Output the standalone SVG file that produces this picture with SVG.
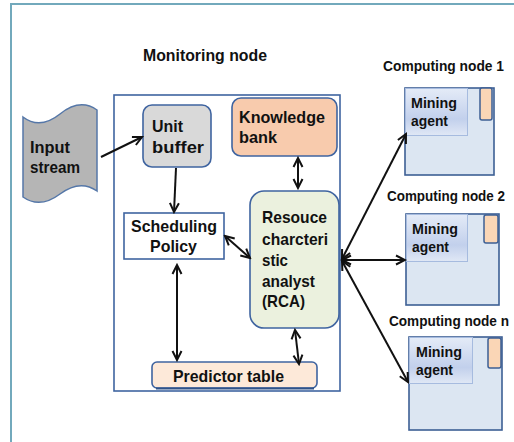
<svg xmlns="http://www.w3.org/2000/svg" width="514" height="442" viewBox="0 0 514 442">
  <style>
    .t { font-family: "Liberation Sans", Arial, sans-serif; font-weight: bold; fill: #111; }
    .n17 { font-size: 17px; }
    .n15 { font-size: 15px; }
    .n14 { font-size: 14px; }
    .box { stroke: #3f64a0; stroke-width: 1.6; }
    .link { stroke: #111; stroke-width: 2; fill: none; }
    .cbox { fill: #dce6f2; stroke: #3d5f94; stroke-width: 1.6; }
    .agent { fill: url(#agentGrad); stroke: #a6bbdf; stroke-width: 1; }
    .tab { fill: #fad6b6; stroke: #3d5f94; stroke-width: 1.5; }
  </style>
  <defs>
    <linearGradient id="agentGrad" x1="0" y1="0" x2="0" y2="1">
      <stop offset="0" stop-color="#e4ebf7"/>
      <stop offset="0.65" stop-color="#c2d0ec"/>
      <stop offset="1" stop-color="#e0e8f5"/>
    </linearGradient>
    <marker id="arrow" viewBox="0 0 12 12" refX="10" refY="6" markerWidth="12" markerHeight="12" markerUnits="userSpaceOnUse" orient="auto-start-reverse">
      <path d="M1,1.5 L10,6 L1,10.5" fill="none" stroke="#111" stroke-width="2"/>
    </marker>
  </defs>

  <rect width="514" height="442" fill="#ffffff"/>
  <!-- outer frame -->
  <rect x="11" y="4" width="530" height="460" fill="none" stroke="#72a9bc" stroke-width="2"/>

  <!-- monitoring node container -->
  <g id="monitoring-node">
    <rect x="114" y="95" width="226" height="296" fill="none" stroke="#3f64a0" stroke-width="1.6"/>
    <text class="t n17" x="143" y="61" textLength="124" lengthAdjust="spacingAndGlyphs">Monitoring node</text>
  </g>

  <g id="input-stream">
    <path d="M23,117 Q40,130 60,114 T97,110 L97,191 Q80,179 60,194 T23,197 Z" fill="#b5b5b5" stroke="#5577a8" stroke-width="1.5"/>
    <text class="t n17" x="30" y="153" textLength="40" lengthAdjust="spacingAndGlyphs">Input</text>
    <text class="t n17" x="30" y="173" textLength="50" lengthAdjust="spacingAndGlyphs">stream</text>
  </g>

  <g id="unit-buffer">
    <rect class="box" x="143" y="105" width="68" height="62" rx="9" fill="#d9d9d9"/>
    <text class="t n17" x="152" y="132" textLength="31" lengthAdjust="spacingAndGlyphs">Unit</text>
    <text class="t n17" x="152" y="153" textLength="52" lengthAdjust="spacingAndGlyphs">buffer</text>
  </g>

  <g id="knowledge-bank">
    <rect class="box" x="232" y="98" width="105" height="58" rx="9" fill="#f8cbad"/>
    <text class="t n17" x="239" y="123" textLength="86" lengthAdjust="spacingAndGlyphs">Knowledge</text>
    <text class="t n17" x="239" y="143" textLength="38" lengthAdjust="spacingAndGlyphs">bank</text>
  </g>

  <g id="scheduling-policy">
    <rect class="box" x="124" y="213" width="100" height="46" fill="#ffffff"/>
    <text class="t n17" x="131" y="232" textLength="86" lengthAdjust="spacingAndGlyphs">Scheduling</text>
    <text class="t n17" x="150" y="252" textLength="47" lengthAdjust="spacingAndGlyphs">Policy</text>
  </g>

  <g id="rca">
    <rect class="box" x="250" y="191" width="89" height="137" rx="14" fill="#ebf1de"/>
    <text class="t n17" x="262" y="223" textLength="65" lengthAdjust="spacingAndGlyphs">Resouce</text>
    <text class="t n17" x="262" y="245" textLength="66" lengthAdjust="spacingAndGlyphs">charcteri</text>
    <text class="t n17" x="262" y="266" textLength="26" lengthAdjust="spacingAndGlyphs">stic</text>
    <text class="t n17" x="262" y="287" textLength="53" lengthAdjust="spacingAndGlyphs">analyst</text>
    <text class="t n17" x="262" y="307" textLength="43" lengthAdjust="spacingAndGlyphs">(RCA)</text>
  </g>

  <g id="predictor-table">
    <rect class="box" x="152" y="362" width="165" height="26" rx="5" fill="#fde9d9"/>
    <line x1="156" y1="388.5" x2="314" y2="388.5" stroke="#2f5389" stroke-width="2"/>
    <text class="t n17" x="173" y="382" textLength="111" lengthAdjust="spacingAndGlyphs">Predictor table</text>
  </g>

  <g id="computing-node-1">
    <text class="t n14" x="383" y="71" textLength="121" lengthAdjust="spacingAndGlyphs">Computing node 1</text>
    <rect class="cbox" x="405" y="88" width="89" height="87"/>
    <rect class="agent" x="405.5" y="88.5" width="62" height="47"/>
    <rect class="tab" x="480" y="88" width="12" height="32" rx="2"/>
    <text class="t n15" x="411" y="108" textLength="46" lengthAdjust="spacingAndGlyphs">Mining</text>
    <text class="t n15" x="411" y="126" textLength="37" lengthAdjust="spacingAndGlyphs">agent</text>
  </g>

  <g id="computing-node-2">
    <text class="t n14" x="387" y="201" textLength="118" lengthAdjust="spacingAndGlyphs">Computing node 2</text>
    <rect class="cbox" x="406" y="214" width="93" height="91"/>
    <rect class="agent" x="406.5" y="214.5" width="61" height="47"/>
    <rect class="tab" x="484" y="215" width="14" height="28" rx="2"/>
    <text class="t n15" x="412" y="234" textLength="46" lengthAdjust="spacingAndGlyphs">Mining</text>
    <text class="t n15" x="412" y="252" textLength="37" lengthAdjust="spacingAndGlyphs">agent</text>
  </g>

  <g id="computing-node-n">
    <text class="t n14" x="389" y="326" textLength="120" lengthAdjust="spacingAndGlyphs">Computing node n</text>
    <rect class="cbox" x="409" y="337" width="93" height="93"/>
    <rect class="agent" x="409.5" y="337.5" width="63" height="46"/>
    <rect class="tab" x="488" y="338" width="13" height="30" rx="2"/>
    <text class="t n15" x="416" y="357" textLength="46" lengthAdjust="spacingAndGlyphs">Mining</text>
    <text class="t n15" x="416" y="375" textLength="37" lengthAdjust="spacingAndGlyphs">agent</text>
  </g>

  <!-- connectors -->
  <g id="connectors">
    <line class="link" x1="101" y1="157" x2="142" y2="137" marker-end="url(#arrow)"/>
    <line class="link" x1="176" y1="168" x2="174" y2="212" marker-end="url(#arrow)"/>
    <line class="link" x1="298" y1="158" x2="298" y2="188" marker-start="url(#arrow)" marker-end="url(#arrow)"/>
    <line class="link" x1="225" y1="236" x2="250" y2="258" marker-start="url(#arrow)" marker-end="url(#arrow)"/>
    <line class="link" x1="177" y1="265" x2="177" y2="360" marker-start="url(#arrow)" marker-end="url(#arrow)"/>
    <line class="link" x1="295" y1="330" x2="299" y2="364" marker-start="url(#arrow)" marker-end="url(#arrow)"/>
    <line class="link" x1="342" y1="259" x2="406" y2="134" marker-start="url(#arrow)" marker-end="url(#arrow)"/>
    <line class="link" x1="342" y1="260" x2="405" y2="260" marker-start="url(#arrow)" marker-end="url(#arrow)"/>
    <line class="link" x1="342" y1="261" x2="408" y2="382" marker-start="url(#arrow)" marker-end="url(#arrow)"/>
  </g>
</svg>
